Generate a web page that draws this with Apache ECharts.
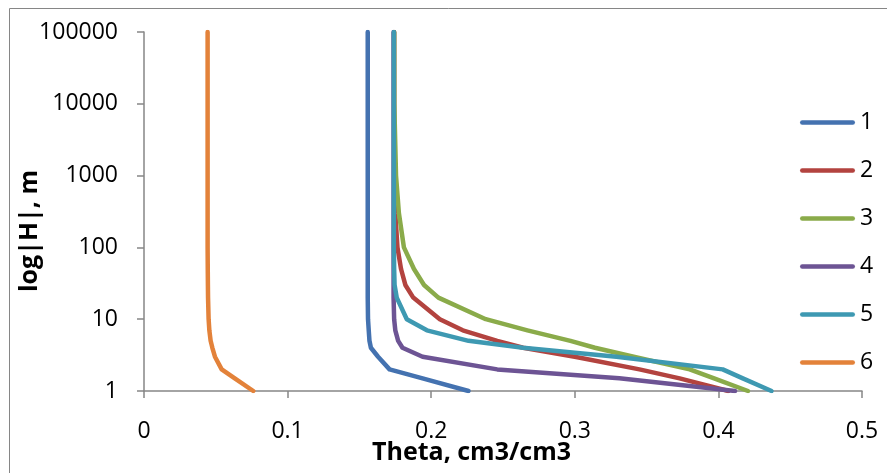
<!DOCTYPE html>
<html>
<head>
<meta charset="utf-8">
<script src="https://cdn.jsdelivr.net/npm/echarts@6/dist/echarts.min.js"></script>
<style>
html,body{margin:0;padding:0;background:#fff;}
#chart{width:887px;height:473px;}
</style>
</head>
<body>
<div id="chart"></div>
<script>
// Suction head |H|, m (shared by all series)
var H = [1, 1.5, 2, 3, 4, 5, 7, 10, 20, 30, 50, 100, 300, 1000, 10000, 100000];
// Water content theta (cm3/cm3) for each curve at the H values above
var theta1 = [0.226, 0.194, 0.171, 0.163, 0.158, 0.157, 0.1565, 0.156, 0.1558, 0.1558, 0.1558, 0.1558, 0.1558, 0.1558, 0.1558, 0.1558];
var theta2 = [0.407, 0.373, 0.345, 0.300, 0.264, 0.246, 0.222, 0.206, 0.1875, 0.182, 0.179, 0.1765, 0.175, 0.1743, 0.1742, 0.1742];
var theta3 = [0.4206, 0.397, 0.380, 0.341, 0.314, 0.297, 0.267, 0.238, 0.205, 0.195, 0.188, 0.181, 0.1775, 0.1755, 0.1743, 0.1742];
var theta4 = [0.4116, 0.331, 0.246, 0.194, 0.180, 0.177, 0.175, 0.1742, 0.1738, 0.1738, 0.1738, 0.1738, 0.1738, 0.1738, 0.1738, 0.1738];
var theta5 = [0.437, 0.417, 0.403, 0.329, 0.264, 0.226, 0.197, 0.183, 0.176, 0.1745, 0.1742, 0.174, 0.174, 0.174, 0.174, 0.174];
var theta6 = [0.0761, 0.0632, 0.0541, 0.0494, 0.0476, 0.0464, 0.0455, 0.045, 0.0446, 0.0445, 0.0444, 0.0443, 0.0443, 0.0443, 0.0443, 0.0443];
var seriesNames = ['1', '2', '3', '4', '5', '6'];
var xTicks = [0, 0.1, 0.2, 0.3, 0.4, 0.5];
var yTicks = [1, 10, 100, 1000, 10000, 100000];

var colors = ['#4472B0', '#B3433F', '#8AAB4A', '#6D5494', '#3E99B2', '#E3823A'];
var allTheta = [theta1, theta2, theta3, theta4, theta5, theta6];
var FONT = 'Open Sans';
var LEGEND_ICON = 'path://M2.25,0 L52.75,0 A2.25,2.25 0 0 1 52.75,4.5 L2.25,4.5 A2.25,2.25 0 0 1 2.25,0 Z';

function pairs(th) {
  var out = [];
  for (var i = 0; i < H.length; i++) out.push([th[i], H[i]]);
  return out;
}

var series = allTheta.map(function (th, i) {
  return {
    name: seriesNames[i],
    type: 'line',
    data: pairs(th),
    showSymbol: false,
    symbol: 'none',
    smooth: false,
    lineStyle: { width: 4.5, color: colors[i], cap: 'round', join: 'round' },
    itemStyle: { color: colors[i] },
    z: 2 + i
  };
});

var legendData = seriesNames.map(function (n, i) {
  return { name: n, icon: LEGEND_ICON, itemStyle: { color: colors[i], borderWidth: 0 } };
});

var chart = echarts.init(document.getElementById('chart'), null, { renderer: 'canvas' });
chart.setOption({
  animation: false,
  backgroundColor: '#fff',
  color: colors,
  grid: { left: 144, top: 32, right: 25, bottom: 82 },
  graphic: [
    { type: 'rect', shape: { x: 9.5, y: 8.5, width: 900, height: 500 }, style: { fill: 'none', stroke: '#868686', lineWidth: 1 }, silent: true, z: -10 },
    { type: 'text', left: 372, top: 440, style: { text: 'Theta, cm3/cm3', font: 'bold 25px "' + FONT + '"', fill: '#000' } },
    { type: 'text', x: 30, y: 231, rotation: Math.PI / 2, style: { text: 'log|H|, m', font: 'bold 25px "' + FONT + '"', fill: '#000', align: 'center', verticalAlign: 'middle' } }
  ],
  legend: {
    show: true,
    orient: 'vertical',
    left: 795,
    top: 106,
    itemWidth: 55,
    itemHeight: 24,
    itemGap: 25,
    symbolKeepAspect: true,
    data: legendData,
    lineStyle: { width: 0 },
    textStyle: { fontFamily: FONT, fontSize: 23, color: '#000' }
  },
  xAxis: {
    type: 'value',
    min: xTicks[0],
    max: xTicks[xTicks.length - 1],
    interval: 0.1,
    axisLine: { show: true, onZero: false, lineStyle: { color: '#868686', width: 1.5 } },
    axisTick: { show: true, inside: false, length: 7, lineStyle: { color: '#868686', width: 1.5 } },
    splitLine: { show: false },
    axisLabel: { margin: 29, fontFamily: FONT, fontSize: 23, color: '#000', formatter: function (v) { return String(Math.round(v * 10) / 10); } }
  },
  yAxis: {
    type: 'log',
    logBase: 10,
    min: yTicks[0],
    max: yTicks[yTicks.length - 1],
    axisLine: { show: true, onZero: false, lineStyle: { color: '#868686', width: 1.5 } },
    axisTick: { show: true, inside: false, length: 7, lineStyle: { color: '#868686', width: 1.5 } },
    splitLine: { show: false },
    minorTick: { show: false },
    axisLabel: { margin: 26, fontFamily: FONT, fontSize: 23, color: '#000', formatter: function (v) { return String(Math.round(v)); } }
  },
  series: series
});
</script>
</body>
</html>
